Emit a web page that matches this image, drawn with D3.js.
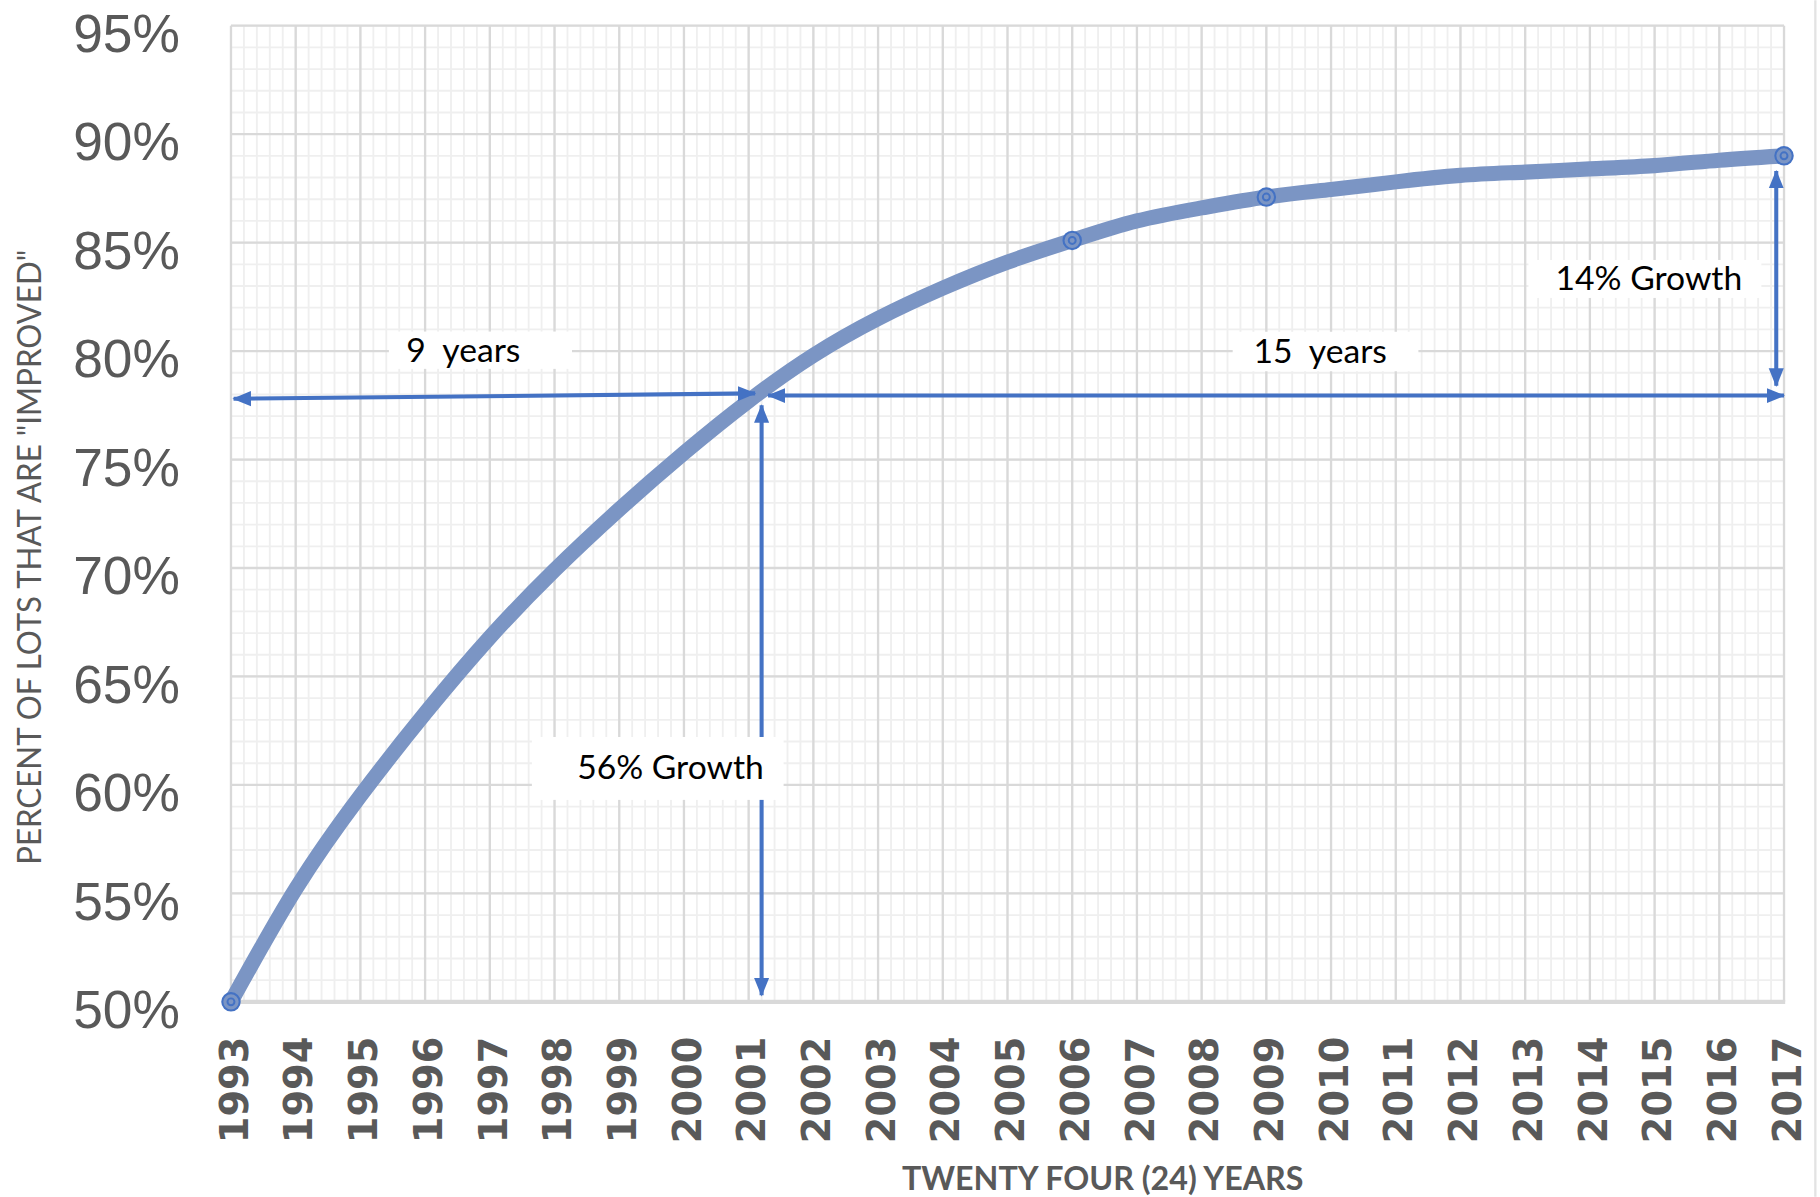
<!DOCTYPE html>
<html>
<head>
<meta charset="utf-8">
<script src="https://cdn.jsdelivr.net/npm/d3@7"></script>
<style>
  body { margin: 0; background: #fff; }
  svg { display: block; }
</style>
</head>
<body>
<div id="chart"></div>
<script>
(function() {
    // ---- data ----
    var years = [1993, 1994, 1995, 1996, 1997, 1998, 1999, 2000, 2001, 2002, 2003, 2004, 2005,
                 2006, 2007, 2008, 2009, 2010, 2011, 2012, 2013, 2014, 2015, 2016, 2017];
    var pctImproved = [50.0, 55.2, 59.5, 63.3, 66.8, 69.9, 72.7, 75.3, 77.7, 79.8, 81.5, 82.9, 84.1,
                       85.1, 86.0, 86.6, 87.1, 87.45, 87.8, 88.1, 88.25, 88.4, 88.55, 88.8, 89.0];
    var markerYears = [1993, 2006, 2009, 2017];
    var yTickValues = [50, 55, 60, 65, 70, 75, 80, 85, 90, 95];

    // annotation arrows (data units), all double headed
    var arrows = [
        {x1: 1993.04, y1: 77.8, x2: 2001.1, y2: 78.05},
        {x1: 2001.3, y1: 77.95, x2: 2017.0, y2: 77.95},
        {x1: 2001.2, y1: 77.5, x2: 2001.2, y2: 50.3},
        {x1: 2016.88, y1: 88.3, x2: 2016.88, y2: 78.4}
    ];
    // annotation labels: text start / baseline, plus white box extents (data units)
    var labels = [
        {text: "9  years",   x: 1995.71, y: 79.5,  bx0: 1995.44, bx1: 1998.27, by0: 80.9,  by1: 79.18},
        {text: "15  years",  x: 2008.8,  y: 79.44, bx0: 2008.48, bx1: 2011.35, by0: 80.89, by1: 79.07},
        {text: "56% Growth", x: 1998.35, y: 60.28, bx0: 1997.65, bx1: 2001.54, by0: 62.21, by1: 59.31},
        {text: "14% Growth", x: 2013.47, y: 82.82, bx0: 2013.05, bx1: 2016.65, by0: 84.2,  by1: 82.45}
    ];

    var W = 1568, H = 1031;
    var blue = "#4472c4", lineColor = "#7b95c4", textGray = "#595959";

    var svg = d3.select("#chart").append("svg")
        .attr("width", 1820)
        .attr("height", 1197)
        .attr("viewBox", "0 0 " + W + " " + H);

    var xScale = d3.scaleLinear().domain([1993, 2017]).range([199, 1537]),
        yScale = d3.scaleLinear().domain([50, 95]).range([863, 22]);

    // right border of the chart area
    svg.append("line")
        .attr("x1", 1564).attr("x2", 1564).attr("y1", 0).attr("y2", H)
        .attr("stroke", "#e3e3e3").attr("stroke-width", 2);

    ///////////////////////// GRID //////////////////////////
    var grid = svg.append("g").attr("class", "grid");

    grid.selectAll(".vminor").data(xScale.ticks(120)).enter().append("line")
        .attr("x1", xScale).attr("x2", xScale)
        .attr("y1", yScale(95)).attr("y2", yScale(50))
        .attr("stroke", "#efefef").attr("stroke-width", 1.6);
    grid.selectAll(".hminor").data(yScale.ticks(45)).enter().append("line")
        .attr("x1", xScale(1993)).attr("x2", xScale(2017))
        .attr("y1", yScale).attr("y2", yScale)
        .attr("stroke", "#efefef").attr("stroke-width", 1.6);
    grid.selectAll(".vmajor").data(xScale.ticks(24)).enter().append("line")
        .attr("x1", xScale).attr("x2", xScale)
        .attr("y1", yScale(95)).attr("y2", yScale(50))
        .attr("stroke", "#d9d9d9").attr("stroke-width", 2);
    grid.selectAll(".hmajor").data(yTickValues).enter().append("line")
        .attr("x1", xScale(1993)).attr("x2", xScale(2017))
        .attr("y1", yScale).attr("y2", yScale)
        .attr("stroke", "#d9d9d9").attr("stroke-width", 2);
    // x axis line
    grid.append("line")
        .attr("x1", xScale(1993) - 1).attr("x2", xScale(2017) + 1)
        .attr("y1", yScale(50)).attr("y2", yScale(50))
        .attr("stroke", "#d9d9d9").attr("stroke-width", 3.5);

    ///////////////////////// AXES //////////////////////////
    var yAxis = d3.axisLeft(yScale)
        .tickValues(yTickValues)
        .tickSize(0)
        .tickPadding(44)
        .tickFormat(function(d) { return d + "%"; });
    var gy = svg.append("g")
        .attr("transform", "translate(" + xScale(1993) + ",0)")
        .call(yAxis);
    gy.select(".domain").remove();
    gy.selectAll("text")
        .attr("fill", textGray)
        .attr("dy", null)
        .attr("y", 22)
        .attr("textLength", 92)
        .attr("lengthAdjust", "spacingAndGlyphs")
        .style("font-family", "'Liberation Sans', Arial, sans-serif")
        .style("font-size", "46px");

    var xAxis = d3.axisBottom(xScale)
        .tickValues(years)
        .tickSize(0)
        .tickFormat(d3.format("d"));
    var gx = svg.append("g")
        .attr("transform", "translate(0," + yScale(50) + ")")
        .call(xAxis);
    gx.select(".domain").remove();
    gx.selectAll("text")
        .attr("fill", textGray)
        .attr("y", null)
        .attr("dy", "0.36em")
        .attr("text-anchor", "end")
        .attr("transform", "translate(2,30) rotate(-90)")
        .style("font-family", "'DejaVu Sans', Verdana, sans-serif")
        .style("font-weight", "bold")
        .style("font-size", "33px");

    // axis titles
    svg.append("text")
        .attr("transform", "translate(25,480) rotate(-90)")
        .attr("text-anchor", "middle")
        .attr("dy", "0.36em")
        .attr("textLength", 530)
        .attr("lengthAdjust", "spacingAndGlyphs")
        .attr("fill", textGray)
        .style("font-family", "Lato, 'Open Sans', sans-serif")
        .style("font-size", "28px")
        .text("PERCENT OF LOTS THAT ARE \"IMPROVED\"");

    svg.append("text")
        .attr("x", 950)
        .attr("y", 1025)
        .attr("text-anchor", "middle")
        .attr("textLength", 346)
        .attr("lengthAdjust", "spacingAndGlyphs")
        .attr("fill", textGray)
        .style("font-family", "Lato, 'Open Sans', sans-serif")
        .style("font-weight", "bold")
        .style("font-size", "28px")
        .text("TWENTY FOUR (24) YEARS");

    ///////////////////////// CURVE //////////////////////////
    var series = years.map(function(y, i) { return {year: y, pct: pctImproved[i]}; });

    var line = d3.line()
        .x(function(d) { return xScale(d.year); })
        .y(function(d) { return yScale(d.pct); })
        .curve(d3.curveNatural);

    svg.append("path")
        .datum(series)
        .attr("fill", "none")
        .attr("stroke", lineColor)
        .attr("stroke-width", 13)
        .attr("stroke-linecap", "round")
        .attr("stroke-linejoin", "round")
        .attr("d", line);

    var marks = svg.selectAll(".mark")
        .data(series.filter(function(d) { return markerYears.indexOf(d.year) >= 0; }))
        .enter().append("g")
        .attr("transform", function(d) { return "translate(" + xScale(d.year) + "," + yScale(d.pct) + ")"; });
    marks.append("circle").attr("r", 7.5)
        .attr("fill", lineColor).attr("stroke", blue).attr("stroke-width", 1.8);
    marks.append("circle").attr("r", 3)
        .attr("fill", "none").attr("stroke", blue).attr("stroke-width", 1.7);

    ///////////////////////// ANNOTATIONS //////////////////////////
    var defs = svg.append("defs");
    defs.append("marker")
        .attr("id", "head")
        .attr("markerUnits", "userSpaceOnUse")
        .attr("viewBox", "0 0 16 14")
        .attr("markerWidth", 16)
        .attr("markerHeight", 14)
        .attr("refX", 15)
        .attr("refY", 7)
        .attr("orient", "auto-start-reverse")
        .append("path")
        .attr("d", "M0,0.5 L16,7 L0,13.5 Z")
        .attr("fill", blue);

    svg.selectAll(".arrow").data(arrows).enter().append("line")
        .attr("x1", function(d) { return xScale(d.x1); })
        .attr("y1", function(d) { return yScale(d.y1); })
        .attr("x2", function(d) { return xScale(d.x2); })
        .attr("y2", function(d) { return yScale(d.y2); })
        .attr("stroke", blue)
        .attr("stroke-width", 3.5)
        .attr("marker-start", "url(#head)")
        .attr("marker-end", "url(#head)");

    var lab = svg.selectAll(".lab").data(labels).enter().append("g");
    lab.append("rect")
        .attr("x", function(d) { return xScale(d.bx0); })
        .attr("y", function(d) { return yScale(d.by0); })
        .attr("width", function(d) { return xScale(d.bx1) - xScale(d.bx0); })
        .attr("height", function(d) { return yScale(d.by1) - yScale(d.by0); })
        .attr("fill", "#fff");
    lab.append("text")
        .attr("x", function(d) { return xScale(d.x); })
        .attr("y", function(d) { return yScale(d.y); })
        .attr("fill", "#000")
        .style("font-family", "Lato, 'Open Sans', sans-serif")
        .style("font-size", "29px")
        .style("white-space", "pre")
        .text(function(d) { return d.text; });
})();
</script>
</body>
</html>
